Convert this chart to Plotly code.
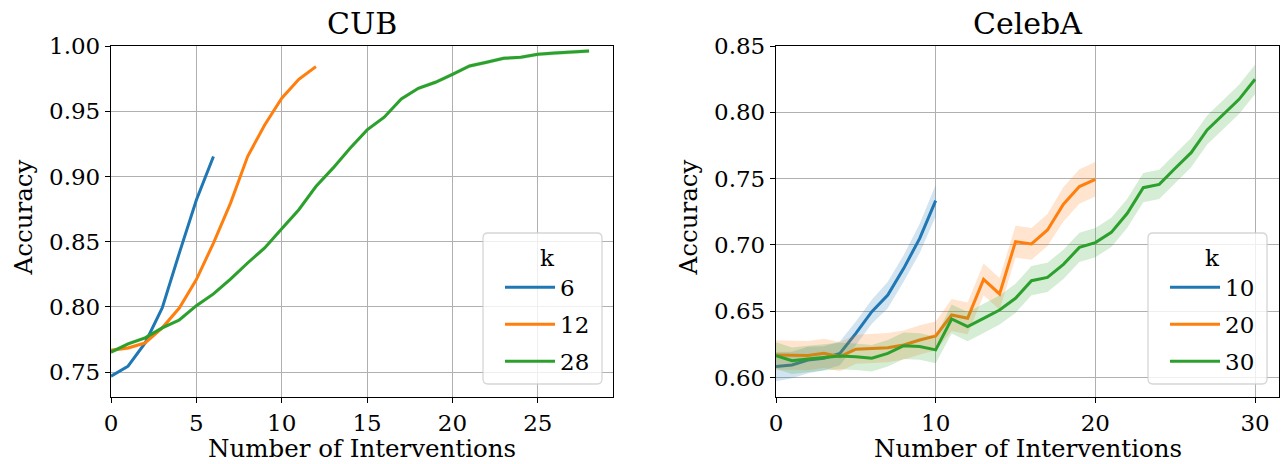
import plotly.graph_objects as go

# ---------------- data ----------------
cub_k = ["6", "12", "28"]
cub_x6 = list(range(0, 7))
cub_y6 = [0.747, 0.7546, 0.7724, 0.7992, 0.8413, 0.882, 0.9153]
cub_s6 = [0.0015] * 7
cub_x12 = list(range(0, 13))
cub_y12 = [0.7668, 0.7686, 0.7724, 0.784, 0.7992, 0.821, 0.849, 0.8796, 0.9153,
           0.9395, 0.96, 0.9745, 0.9842]
cub_s12 = [0.0015] * 13
cub_x28 = list(range(0, 29))
cub_y28 = [0.7653, 0.7717, 0.7763, 0.784, 0.79, 0.801, 0.81, 0.8214, 0.8337, 0.8452,
           0.86, 0.8745, 0.8923, 0.9064, 0.9217, 0.9357, 0.9454, 0.9594, 0.9676, 0.9722,
           0.9783, 0.9847, 0.9875, 0.9906, 0.9913, 0.9936, 0.9946, 0.9952, 0.9962]
cub_s28 = [0.0015] * 29

celeb_k = ["10", "20", "30"]
celeb_x10 = list(range(0, 11))
celeb_y10 = [0.6083, 0.6095, 0.6133, 0.6146, 0.6183, 0.6334, 0.6497, 0.6623, 0.6824,
             0.705, 0.7334]
celeb_s10 = [0.011, 0.010, 0.010, 0.009, 0.009, 0.009, 0.009, 0.010, 0.010, 0.011, 0.012]
celeb_x20 = list(range(0, 21))
celeb_y20 = [0.6171, 0.6166, 0.6166, 0.6183, 0.6158, 0.6214, 0.6221, 0.6226, 0.6246,
             0.6284, 0.6314, 0.6472, 0.6447, 0.6741, 0.6631, 0.7025, 0.7008, 0.7113,
             0.7307, 0.744, 0.7495]
celeb_s20 = [0.011, 0.011, 0.011, 0.011, 0.011, 0.011, 0.011, 0.011, 0.011, 0.011,
             0.011, 0.012, 0.012, 0.012, 0.012, 0.012, 0.012, 0.012, 0.013, 0.013, 0.013]
celeb_x30 = list(range(0, 31))
celeb_y30 = [0.6166, 0.6128, 0.6141, 0.6153, 0.6163, 0.6158, 0.6146, 0.6183, 0.6241,
             0.6234, 0.6209, 0.6442, 0.6384, 0.6447, 0.651, 0.6598, 0.6731, 0.6756,
             0.6854, 0.6982, 0.7018, 0.7095, 0.7239, 0.7432, 0.7457, 0.7578, 0.7696,
             0.7867, 0.7985, 0.8098, 0.8249]
celeb_s30 = [0.010] * 11 + [0.011] * 10 + [0.011] * 10

colors = ["#1f77b4", "#ff7f0e", "#2ca02c"]
fills = ["rgba(31,119,180,0.2)", "rgba(255,127,14,0.2)", "rgba(44,160,44,0.2)"]

W, H = 1281, 464
FONT = "DejaVu Serif"
FS = 23        # tick labels / legend
FS_LAB = 24.5  # axis labels
FS_TTL = 30    # titles

fig = go.Figure()


def add_series(xs, ys, ss, name, ci, xa, ya, legend):
    up = [y + s for y, s in zip(ys, ss)]
    lo = [y - s for y, s in zip(ys, ss)]
    fig.add_trace(go.Scatter(
        x=xs + xs[::-1], y=up + lo[::-1], fill="toself", fillcolor=fills[ci],
        line=dict(width=0), mode="lines", hoverinfo="skip", showlegend=False,
        xaxis=xa, yaxis=ya))
    fig.add_trace(go.Scatter(
        x=xs, y=ys, mode="lines", name=name, line=dict(color=colors[ci], width=3),
        xaxis=xa, yaxis=ya, legend=legend, legendgroup=legend + name))


add_series(cub_x6, cub_y6, cub_s6, cub_k[0], 0, "x", "y", "legend")
add_series(cub_x12, cub_y12, cub_s12, cub_k[1], 1, "x", "y", "legend")
add_series(cub_x28, cub_y28, cub_s28, cub_k[2], 2, "x", "y", "legend")
add_series(celeb_x10, celeb_y10, celeb_s10, celeb_k[0], 0, "x2", "y2", "legend2")
add_series(celeb_x20, celeb_y20, celeb_s20, celeb_k[1], 1, "x2", "y2", "legend2")
add_series(celeb_x30, celeb_y30, celeb_s30, celeb_k[2], 2, "x2", "y2", "legend2")


def px_x(p):
    return p / W


def px_y(p):
    return (H - p) / H


axis_common = dict(
    showline=True, mirror=True, linecolor="black", linewidth=1.3,
    ticks="outside", ticklen=5, tickwidth=1.3, tickcolor="black",
    showgrid=True, gridcolor="#b0b0b0", gridwidth=1.3, zeroline=False,
    tickfont=dict(family=FONT, size=FS, color="black"), automargin=False,
)

ydom = [px_y(397), px_y(46)]
leg_common = dict(xanchor="left", yanchor="top", bgcolor="rgba(0,0,0,0)", borderwidth=0,
                  tracegroupgap=4, itemwidth=50,
                  title=dict(text="k", side="top center", font=dict(family=FONT, size=FS)),
                  font=dict(family=FONT, size=FS, color="black"))
fig.update_layout(
    width=W, height=H, margin=dict(l=0, r=0, t=0, b=0, autoexpand=False),
    paper_bgcolor="white", plot_bgcolor="white",
    font=dict(family=FONT, size=FS, color="black"),
    xaxis=dict(domain=[px_x(111), px_x(613)], range=[0, 29.4], dtick=5, tick0=0,
               anchor="y", **axis_common),
    yaxis=dict(domain=ydom, range=[0.731, 1.0], dtick=0.05, tick0=0.75,
               tickformat=".2f", anchor="x", **axis_common),
    xaxis2=dict(domain=[px_x(776), px_x(1279)], range=[0, 31.5], dtick=10, tick0=0,
                anchor="y2", **axis_common),
    yaxis2=dict(domain=ydom, range=[0.5854, 0.85], dtick=0.05, tick0=0.6,
                tickformat=".2f", anchor="x2", **axis_common),
    legend=dict(x=px_x(500), y=px_y(236), **leg_common),
    legend2=dict(x=px_x(1165), y=px_y(236), **leg_common),
    showlegend=True,
)


def rounded_rect(x0, y0, x1, y1, r=5):
    X = lambda p: px_x(p)
    Y = lambda p: px_y(p)
    return (f"M{X(x0 + r)},{Y(y0)} L{X(x1 - r)},{Y(y0)} Q{X(x1)},{Y(y0)} {X(x1)},{Y(y0 + r)} "
            f"L{X(x1)},{Y(y1 - r)} Q{X(x1)},{Y(y1)} {X(x1 - r)},{Y(y1)} "
            f"L{X(x0 + r)},{Y(y1)} Q{X(x0)},{Y(y1)} {X(x0)},{Y(y1 - r)} "
            f"L{X(x0)},{Y(y0 + r)} Q{X(x0)},{Y(y0)} {X(x0 + r)},{Y(y0)} Z")


for (a, b) in [(483, 602), (1148, 1267)]:
    fig.add_shape(type="path", path=rounded_rect(a, 233, b, 384), xref="paper", yref="paper",
                  fillcolor="rgba(255,255,255,0.8)", line=dict(color="rgba(204,204,204,0.8)", width=1.3),
                  layer="above")

ann_font = dict(family=FONT, size=FS_LAB, color="black")
title_font = dict(family=FONT, size=FS_TTL, color="black")
for cx, title in [((111 + 613) / 2, "CUB"), ((776 + 1279) / 2, "CelebA")]:
    fig.add_annotation(text=title, x=px_x(cx), y=px_y(24), xref="paper", yref="paper",
                       xanchor="center", yanchor="middle", showarrow=False, font=title_font)
    fig.add_annotation(text="Number of Interventions", x=px_x(cx), y=px_y(448),
                       xref="paper", yref="paper", xanchor="center", yanchor="middle",
                       showarrow=False, font=ann_font)
for lx in [22.5, 687.5]:
    fig.add_annotation(text="Accuracy", x=px_x(lx), y=px_y(218), xref="paper", yref="paper",
                       xanchor="center", yanchor="middle", textangle=-90, showarrow=False,
                       font=ann_font)

# the page body has a default 8px margin; remove it so the figure fills the window
fig.write_html("out.html", config={"displayModeBar": False},
               post_script="document.body.style.margin='0px';")
